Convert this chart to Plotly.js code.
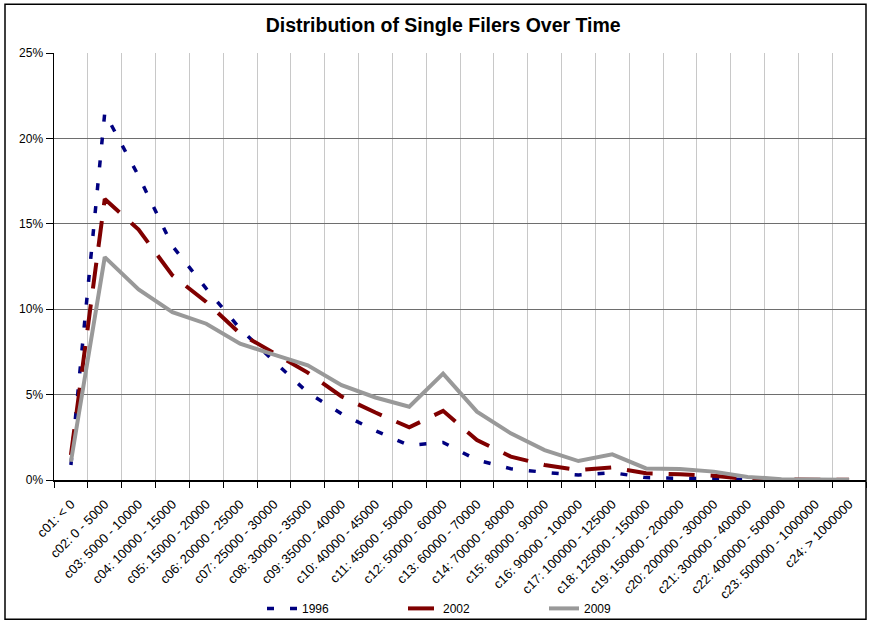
<!DOCTYPE html>
<html>
<head>
<meta charset="utf-8">
<script src="https://cdn.plot.ly/plotly-3.0.1.min.js"></script>
<style>
html,body{margin:0;padding:0;background:#fff;}
#chart{width:869px;height:626px;}
</style>
</head>
<body>
<div id="chart"></div>
<script>
const categories = [
  "c01: < 0", "c02: 0 - 5000", "c03: 5000 - 10000", "c04: 10000 - 15000",
  "c05: 15000 - 20000", "c06: 20000 - 25000", "c07: 25000 - 30000", "c08: 30000 - 35000",
  "c09: 35000 - 40000", "c10: 40000 - 45000", "c11: 45000 - 50000", "c12: 50000 - 60000",
  "c13: 60000 - 70000", "c14: 70000 - 80000", "c15: 80000 - 90000", "c16: 90000 - 100000",
  "c17: 100000 - 125000", "c18: 125000 - 150000", "c19: 150000 - 200000", "c20: 200000 - 300000",
  "c21: 300000 - 400000", "c22: 400000 - 500000", "c23: 500000 - 1000000", "c24: > 1000000"
];
const s1996 = [0.0088, 0.215, 0.178, 0.137, 0.112, 0.0886, 0.0695, 0.0512,
  0.0388, 0.0288, 0.0203, 0.022, 0.0117, 0.0066, 0.0045, 0.0029,
  0.0043, 0.0014, 0.0010, 0.0005, 0.0003, 0.0002, 0.0001, 0.0001];
const s2002 = [0.0146, 0.1645, 0.1466, 0.1198, 0.1042, 0.0857, 0.0744, 0.0629,
  0.0489, 0.0395, 0.0308, 0.0405, 0.0234, 0.0137, 0.0088, 0.0058,
  0.0074, 0.0039, 0.0033, 0.0025, 0.0005, 0.0003, 0.0002, 0.0001];
const s2009 = [0.0107, 0.1305, 0.1116, 0.0983, 0.0915, 0.0798, 0.0734, 0.0672,
  0.0555, 0.0483, 0.0429, 0.0623, 0.040, 0.0273, 0.0175, 0.0111,
  0.015, 0.0068, 0.0064, 0.0049, 0.0018, 0.0005, 0.0003, 0.0002];
const seriesNames = ["1996", "2002", "2009"];

const traces = [
  {x: categories, y: s1996, name: seriesNames[0], type: "scatter", mode: "lines",
   line: {color: "#000080", width: 3.5, dash: "7px,16px"}},
  {x: categories, y: s2002, name: seriesNames[1], type: "scatter", mode: "lines",
   line: {color: "#800000", width: 4, dash: "26px,16px"}},
  {x: categories, y: s2009, name: seriesNames[2], type: "scatter", mode: "lines",
   line: {color: "#999999", width: 4}}
];

const PL = 54, PR = 866, PT = 53, PB = 482, W = 869, H = 626;
const pw = PR - PL, ph = PB - PT;
const px = v => (v - PL) / pw;
const py = v => (PB - v) / ph;

const layout = {
  width: W, height: H,
  margin: {l: PL, r: W - PR, t: PT, b: H - PB, pad: 0},
  paper_bgcolor: "#ffffff",
  plot_bgcolor: "#ffffff",
  font: {family: "Liberation Sans, Arial, sans-serif", size: 12, color: "#000"},
  title: {
    text: "<b>Distribution of Single Filers Over Time</b>",
    font: {family: "Liberation Sans, Arial, sans-serif", size: 19.5, color: "#000"},
    x: 0.51, xanchor: "center", y: 0.96, yanchor: "middle"
  },
  showlegend: true,
  legend: {
    orientation: "h", x: px(262), xanchor: "left", y: py(611), yanchor: "middle",
    font: {size: 12, family: "Liberation Sans, Arial, sans-serif"},
    entrywidth: 96, entrywidthmode: "pixels", bgcolor: "rgba(0,0,0,0)"
  },
  xaxis: {
    type: "category",
    range: [-0.5, categories.length - 0.5],
    tickson: "boundaries",
    showgrid: true, gridcolor: "#c8c8c8", gridwidth: 1,
    showline: true, linecolor: "#000", linewidth: 1.5,
    ticks: "outside", ticklen: 6, tickcolor: "#000", tickwidth: 1,
    tickangle: -45, ticklabelstandoff: 10,
    tickfont: {size: 13, family: "Liberation Sans, Arial, sans-serif"},
    zeroline: false, fixedrange: true
  },
  yaxis: {
    range: [0, 0.25], dtick: 0.05, tick0: 0, tickformat: ".0%",
    showgrid: true, gridcolor: "#6e6e6e", gridwidth: 1,
    showline: true, linecolor: "#000", linewidth: 1.5,
    ticks: "outside", ticklen: 7, tickcolor: "#000", tickwidth: 1,
    tickfont: {size: 12, family: "Liberation Sans, Arial, sans-serif"},
    zeroline: false, fixedrange: true
  },
  shapes: [
    {type: "rect", xref: "paper", yref: "paper",
     x0: px(5), x1: px(866), y0: py(622), y1: py(4),
     line: {color: "#000", width: 1.5}, fillcolor: "rgba(0,0,0,0)", layer: "above"}
  ]
};

Plotly.newPlot("chart", traces, layout, {displayModeBar: false, staticPlot: true});
</script>
</body>
</html>
